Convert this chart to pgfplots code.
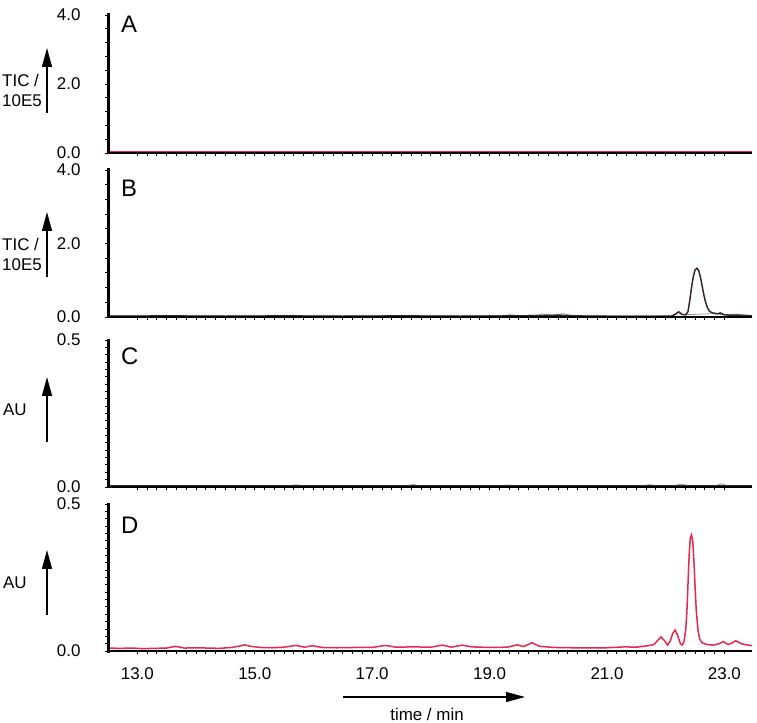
\documentclass[border=0pt]{standalone}
\usepackage{fontspec}
\setmainfont{Liberation Sans}
\usepackage{pgfplots}
\pgfplotsset{compat=1.18}
\usetikzlibrary{arrows.meta}

\definecolor{dred}{RGB}{232,40,80}
\definecolor{dgray}{RGB}{150,150,150}
\definecolor{dblack}{RGB}{55,40,42}

\pgfplotsset{
 chrom/.style={
  scale only axis, width=644bp,
  xmin=12.5, xmax=23.47,
  axis x line*=bottom, axis y line*=left,
  every outer x axis line/.append style={line width=2bp},
  every outer y axis line/.append style={line width=3bp},
  tick align=outside,
  major tick length=3bp, minor tick length=3bp,
  every tick/.style={black, line width=0.9bp},
  xtick={13,15,17,19,21,23},
  minor x tick num=11,
  xticklabels={},
  tick label style={font=\fontsize{17}{17}\selectfont},
  /pgf/number format/assume math mode=true,
  yticklabel style={xshift=-21bp},
  xticklabel style={yshift=-10bp},
  clip=false,
  anchor=south west,
  axis on top,
  extra description/.code={
    \draw[line width=3bp, line cap=rect] (rel axis cs:0,0) -- (rel axis cs:0,1);
    \draw[line width=2bp] (rel axis cs:0,0) -- (rel axis cs:1,0);
  },
 },
}
\tikzset{letter/.style={anchor=north west, inner sep=0pt, font=\fontsize{24}{24}\selectfont}}

\begin{document}
\begin{tikzpicture}
\useasboundingbox (0bp,0bp) rectangle (757bp,723bp);

% Panel A
\begin{axis}[chrom, at={(108bp,570bp)}, height=138bp, ymin=0, ymax=4,
  ytick={0,2,4}, yticklabels={0.0,2.0,4.0},
  minor ytick={0.4,0.8,1.2,1.6,2.4,2.8,3.2,3.6}]
\addplot[dred, line width=0.9bp] coordinates {(12.5,0.045) (15.0,0.045) (18.0,0.045) (21.0,0.045) (23.47,0.045)};
\node[letter, xshift=13bp, yshift=-1bp] at (rel axis cs:0,1) {A};
\end{axis}

% Panel B
\begin{axis}[chrom, at={(108bp,406bp)}, height=147bp, ymin=0, ymax=4,
  ytick={0,2,4}, yticklabels={0.0,2.0,4.0},
  minor ytick={0.4,0.8,1.2,1.6,2.4,2.8,3.2,3.6}]
\addplot[dgray, line width=0.8bp] coordinates {
(12.5,0.03) (13.5,0.04) (14.5,0.03) (15.5,0.04) (16.5,0.03) (17.5,0.04) (18.5,0.03)
(19.2,0.04) (19.35,0.06) (19.5,0.04) (19.8,0.05) (19.92,0.08) (20.05,0.05) (20.15,0.07)
(20.25,0.09) (20.38,0.05) (20.6,0.03) (21.5,0.03) (22.1,0.04) (22.22,0.13) (22.3,0.06)
(22.8,0.09) (23.0,0.06) (23.1,0.07) (23.2,0.08) (23.3,0.06) (23.47,0.04)};
\addplot[dblack, line width=1.5bp] coordinates {
(12.5,0.02) (13.5,0.03) (14.5,0.02) (15.5,0.03) (16.5,0.02) (17.5,0.03) (18.5,0.02)
(19.5,0.03) (19.9,0.04) (20.2,0.05) (20.4,0.03) (21.0,0.02) (21.6,0.02) (22.10,0.02)
(22.16,0.07) (22.22,0.14) (22.28,0.07) (22.34,0.06) (22.38,0.15) (22.41,0.45) (22.44,0.80)
(22.47,1.10) (22.50,1.28) (22.53,1.325) (22.56,1.27) (22.59,1.10) (22.62,0.85) (22.65,0.60)
(22.68,0.40) (22.71,0.25) (22.75,0.15) (22.80,0.11) (22.88,0.09) (22.93,0.11) (23.00,0.06)
(23.10,0.05) (23.25,0.05) (23.35,0.04) (23.47,0.03)};
\node[letter, xshift=13bp, yshift=-10bp] at (rel axis cs:0,1) {B};
\end{axis}

% Panel C
\begin{axis}[chrom, at={(108bp,236bp)}, height=147bp, ymin=0, ymax=0.5,
  ytick={0,0.5}, yticklabels={0.0,0.5},
  minor ytick={0.025,0.05,0.075,0.1,0.125,0.15,0.175,0.2,0.225,0.25,0.275,0.3,0.325,0.35,0.375,0.4,0.425,0.45,0.475}]
\addplot[dgray, line width=0.8bp] coordinates {
(12.5,0.004) (13.6,0.004) (13.7,0.006) (13.8,0.004) (15.6,0.004) (15.7,0.008) (15.8,0.004)
(16.6,0.004) (16.7,0.006) (16.8,0.004) (17.6,0.004) (17.7,0.009) (17.8,0.004) (18.4,0.004)
(18.5,0.006) (18.6,0.004) (19.2,0.005) (19.3,0.007) (19.4,0.005) (21.6,0.004) (21.72,0.008)
(21.85,0.004) (22.15,0.004) (22.25,0.010) (22.4,0.004) (22.85,0.004) (22.95,0.011) (23.05,0.004)
(23.47,0.004)};
\addplot[dblack, line width=1.2bp] coordinates {(12.5,0.004) (16.0,0.004) (20.0,0.004) (23.47,0.004)};
\node[letter, xshift=13bp, yshift=-8bp] at (rel axis cs:0,1) {C};
\end{axis}

% Panel D
\begin{axis}[chrom, at={(108bp,72bp)}, height=147bp, ymin=0, ymax=0.5,
  ytick={0,0.5}, yticklabels={0.0,0.5},
  minor ytick={0.025,0.05,0.075,0.1,0.125,0.15,0.175,0.2,0.225,0.25,0.275,0.3,0.325,0.35,0.375,0.4,0.425,0.45,0.475},
  xticklabels={13.0,15.0,17.0,19.0,21.0,23.0}]
\addplot[dred, line width=1.5bp] coordinates {
(12.50,0.010) (12.70,0.009) (12.90,0.010) (13.10,0.008) (13.30,0.009) (13.50,0.010)
(13.65,0.016) (13.80,0.010) (14.00,0.011) (14.20,0.010) (14.40,0.009) (14.60,0.012)
(14.75,0.017) (14.83,0.021) (14.92,0.016) (15.10,0.012) (15.30,0.011) (15.50,0.013)
(15.70,0.019) (15.85,0.013) (15.98,0.018) (16.15,0.012) (16.40,0.011) (16.70,0.012)
(17.00,0.012) (17.23,0.019) (17.40,0.013) (17.70,0.014) (18.00,0.013) (18.20,0.020)
(18.35,0.013) (18.53,0.020) (18.70,0.014) (19.00,0.012) (19.30,0.013) (19.47,0.021)
(19.58,0.015) (19.72,0.028) (19.85,0.016) (20.10,0.012) (20.40,0.011) (20.70,0.011)
(21.00,0.011) (21.30,0.014) (21.50,0.013) (21.70,0.018) (21.80,0.022) (21.86,0.035)
(21.92,0.048) (21.98,0.035) (22.03,0.020) (22.08,0.035) (22.12,0.060) (22.16,0.071)
(22.20,0.055) (22.25,0.025) (22.28,0.020) (22.31,0.030) (22.34,0.070) (22.36,0.130)
(22.38,0.230) (22.40,0.330) (22.42,0.385) (22.44,0.395) (22.46,0.375) (22.48,0.310)
(22.50,0.220) (22.52,0.140) (22.55,0.070) (22.58,0.040) (22.62,0.028) (22.70,0.022)
(22.80,0.020) (22.90,0.024) (22.98,0.032) (23.06,0.022) (23.12,0.026) (23.19,0.035)
(23.30,0.024) (23.47,0.018)};
\node[letter, xshift=13bp, yshift=-13bp] at (rel axis cs:0,1) {D};
\end{axis}

% y-axis descriptions
\node[anchor=west, align=left, inner sep=0pt, font=\fontsize{17}{20}\selectfont] at (2bp,633bp) {TIC /\\10E5};
\draw[line width=1.3bp, -{Triangle[length=19bp,width=10bp]}] (47bp,610bp) -- (47bp,675bp);
\node[anchor=west, align=left, inner sep=0pt, font=\fontsize{17}{20}\selectfont] at (2bp,469bp) {TIC /\\10E5};
\draw[line width=1.3bp, -{Triangle[length=19bp,width=10bp]}] (47bp,446bp) -- (47bp,511bp);
\node[anchor=west, inner sep=0pt, font=\fontsize{17}{20}\selectfont] at (3bp,313bp) {AU};
\draw[line width=1.3bp, -{Triangle[length=19bp,width=10bp]}] (47bp,281bp) -- (47bp,346bp);
\node[anchor=west, inner sep=0pt, font=\fontsize{17}{20}\selectfont] at (3bp,140bp) {AU};
\draw[line width=1.3bp, -{Triangle[length=19bp,width=10bp]}] (47bp,108bp) -- (47bp,173bp);

% x-axis description
\draw[line width=1.3bp, -{Triangle[length=19bp,width=10bp]}] (343bp,26bp) -- (525bp,26bp);
\node[anchor=base, inner sep=0pt, font=\fontsize{17}{20}\selectfont] at (427bp,3bp) {time / min};
\end{tikzpicture}
\end{document}
